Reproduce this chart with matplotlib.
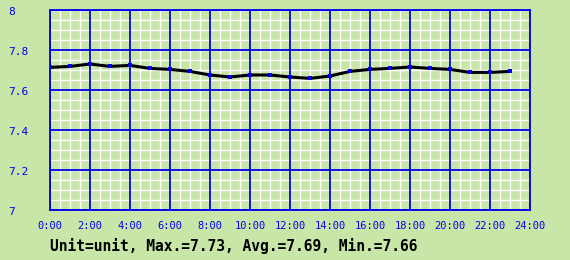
import matplotlib
matplotlib.use("Agg")
import matplotlib.pyplot as plt
import matplotlib.transforms as mtrans
import numpy as np

hours = list(range(24))
values = [7.713, 7.718, 7.730, 7.718, 7.723, 7.708, 7.703, 7.693,
          7.675, 7.665, 7.675, 7.675, 7.665, 7.658, 7.670, 7.693,
          7.703, 7.708, 7.715, 7.708, 7.703, 7.688, 7.688, 7.693]
xticks = list(range(0, 25, 2))
xticklabels = [f"{h}:00" for h in xticks]
yticks = [7, 7.2, 7.4, 7.6, 7.8, 8]
yticklabels = ["7", "7.2", "7.4", "7.6", "7.8", "8"]
footer = "Unit=unit, Max.=7.73, Avg.=7.69, Min.=7.66"

bg = "#c8e6a8"
blue = "#0000ee"

fig = plt.figure(figsize=(5.7, 2.6), dpi=100, facecolor=bg)
ax = fig.add_axes([50/570, 50/260, 480/570, 200/260], facecolor=bg)
ax.set_xlim(0, 24)
ax.set_ylim(7, 8)

for x in np.arange(0, 24.01, 0.5):
    ax.axvline(x, color="white", lw=1.0, zorder=1)
for y in np.arange(7, 8.001, 0.05):
    ax.axhline(y, color="white", lw=1.0, zorder=1)
for x in xticks:
    ax.axvline(x, color=blue, lw=1.3, zorder=2)
for y in yticks:
    ax.axhline(y, color=blue, lw=1.3, zorder=2)

ax.plot(hours, values, color="black", lw=2.2, zorder=3, solid_capstyle="butt")
ax.plot(hours, values, ls="none", marker="s", ms=3.2, mew=0, color=blue, zorder=4)

for s in ax.spines.values():
    s.set_color(blue)
    s.set_linewidth(1.3)
ax.set_xticks(xticks)
ax.set_xticklabels(xticklabels, family="DejaVu Sans Mono", fontsize=7.5, color=blue)
ax.set_yticks(yticks)
ax.set_yticklabels(yticklabels, family="DejaVu Sans Mono", fontsize=8, color=blue,
                   ha="left", va="center")
ax.tick_params(axis="both", length=0)
ax.tick_params(axis="x", pad=8)
ax.tick_params(axis="y", pad=30)
off = mtrans.ScaledTranslation(0, -2/100, fig.dpi_scale_trans)
for lbl in ax.get_yticklabels():
    lbl.set_transform(lbl.get_transform() + off)

fig.text(50/570, 1 - 246/260, footer, family="DejaVu Sans Mono", fontsize=10.5,
         fontweight="bold", color="black", va="center", ha="left")

fig.savefig("out.png", dpi=100, facecolor=bg)
